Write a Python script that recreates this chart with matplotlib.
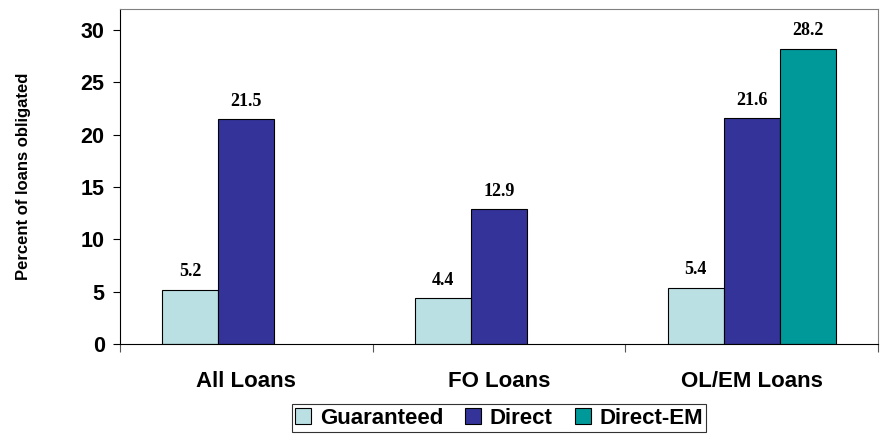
import numpy as np
import matplotlib
matplotlib.use('Agg')
import matplotlib.pyplot as plt

# data
categories = ['All Loans', 'FO Loans', 'OL/EM Loans']
series = ['Guaranteed', 'Direct', 'Direct-EM']
guaranteed = [5.2, 4.4, 5.4]
direct = [21.5, 12.9, 21.6]
direct_em = [None, None, 28.2]
colors = ['#BAE0E3', '#333399', '#009999']

plt.rcParams['font.family'] = ['Liberation Sans', 'DejaVu Sans']

fig = plt.figure(figsize=(8.82, 4.34), dpi=100)
ax = fig.add_axes([0.136, 0.207, 0.8595, 0.772])

x = np.arange(len(categories))
w = 0.222
for j, (name, vals) in enumerate(zip(series, [guaranteed, direct, direct_em])):
    xs = [xi + (j - 1) * w for xi, v in zip(x, vals) if v is not None]
    vs = [v for v in vals if v is not None]
    bars = ax.bar(xs, vs, w, color=colors[j], edgecolor='black', linewidth=0.8, label=name)
    for b, v in zip(bars, vs):
        ax.text(b.get_x() + b.get_width() / 2, v + 0.9, f'{v:.1f}', ha='center', va='bottom',
                fontsize=13, fontweight='bold', family='Liberation Serif')

ax.set_xlim(-0.5, 2.5)
ax.set_ylim(0, 32)
ax.set_yticks([0, 5, 10, 15, 20, 25, 30])
ax.set_xticks([-0.5, 0.5, 1.5, 2.5])
ax.set_xticklabels([])
ax.set_xticks(x, minor=True)
ax.set_xticklabels(categories, minor=True)
ax.tick_params(axis='x', which='minor', length=0, pad=19, labelsize=16)
ax.tick_params(axis='x', which='major', length=6, color='#555555')
ax.tick_params(axis='y', length=5, pad=6, labelsize=15.5)
for lab in ax.get_xticklabels(minor=True) + ax.get_yticklabels():
    lab.set_fontweight('bold')

for s in ['top', 'right']:
    ax.spines[s].set_color('#808080')
ax.spines['left'].set_color('black')
ax.spines['bottom'].set_color('black')

ax.set_ylabel('Percent of loans obligated', fontsize=12, fontweight='bold', labelpad=36)

leg = fig.legend(loc='upper center', bbox_to_anchor=(0.566, 0.068), ncol=3, frameon=True,
                 fancybox=False, edgecolor='black', handlelength=0.7, handleheight=0.7,
                 handletextpad=0.4, columnspacing=1.0, borderpad=0.15, borderaxespad=0,
                 prop={'size': 16, 'weight': 'bold'})
leg.get_frame().set_linewidth(0.8)

plt.savefig('out.png', dpi=100)
